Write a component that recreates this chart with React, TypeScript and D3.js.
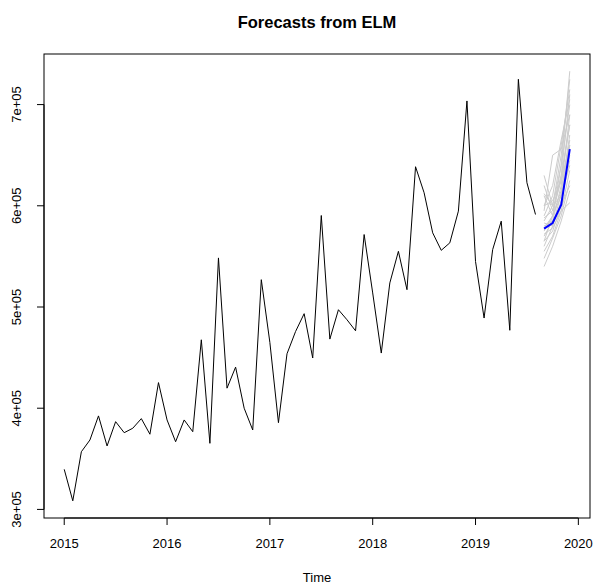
import React from "react";
import * as d3 from "d3";

const START = 2015;
const FREQ = 12;
// observed monthly values (Jan 2015 .. Aug 2019)
const observed: number[] = [
  339.6, 308.5, 357.0, 368.6, 392.4, 362.7, 386.7, 375.8, 380.2, 389.7, 374.3, 425.3,
  388.4, 366.9, 388.4, 376.8, 467.6, 365.3, 548.5, 419.8, 440.6, 400.0, 378.5, 527.0,
  465.0, 385.7, 453.8, 475.8, 493.4, 449.6, 590.4, 468.3, 497.3, 487.4, 476.5, 571.6,
  513.9, 454.5, 523.8, 555.0, 517.1, 638.6, 612.9, 573.3, 556.0, 563.4, 594.7, 703.6,
  545.0, 489.1, 556.7, 584.8, 477.0, 725.0, 622.8, 591.4,
].map((v) => v * 1000);

const forecastStart = START + observed.length / FREQ;
const forecastMean: number[] = [577.5, 583.0, 601.0, 656.0].map((v) => v * 1000);

const members: number[][] = [
  [578, 590, 640, 733],
  [585, 600, 650, 725],
  [590, 610, 660, 715],
  [600, 620, 665, 705],
  [595, 650, 656, 690],
  [630, 600, 640, 700],
  [620, 595, 625, 680],
  [610, 590, 615, 670],
  [570, 585, 620, 690],
  [565, 575, 600, 660],
  [560, 580, 605, 645],
  [555, 570, 595, 635],
  [548, 568, 590, 625],
  [540, 560, 585, 615],
  [575, 590, 610, 650],
  [580, 585, 600, 620],
  [572, 578, 595, 603],
  [588, 595, 630, 680],
  [600, 605, 625, 660],
  [612, 600, 610, 640],
  [565, 590, 630, 710],
  [583, 580, 612, 665],
].map((r) => r.map((v) => v * 1000));

const xTicks = [2015, 2016, 2017, 2018, 2019, 2020];
const yTicks = [300000, 400000, 500000, 600000, 700000];
const yTickLabels = ["3e+05", "4e+05", "5e+05", "6e+05", "7e+05"];

const W = 595;
const H = 585;
const L = 44, R = 590, T = 54, B = 518;
const FONT = "'Liberation Sans', Arial, sans-serif";

export default function App() {
  const tMin = START;
  const tMax = forecastStart + (forecastMean.length - 1) / FREQ;
  const tPad = (tMax - tMin) * 0.04;
  const allVals = [...observed, ...members.flat(), ...forecastMean];
  const vMin = d3.min(allVals)!;
  const vMax = d3.max(allVals)!;
  const vPad = (vMax - vMin) * 0.04;

  const x = d3.scaleLinear().domain([tMin - tPad, tMax + tPad]).range([L, R]);
  const y = d3.scaleLinear().domain([vMin - vPad, vMax + vPad]).range([B, T]);

  const obsLine = d3
    .line<number>()
    .x((_, i) => x(START + i / FREQ))
    .y((d) => y(d));
  const fcLine = d3
    .line<number>()
    .x((_, i) => x(forecastStart + i / FREQ))
    .y((d) => y(d));

  return (
    <div style={{ position: "fixed", left: 0, top: 0 }}>
      <svg width={W} height={H} style={{ display: "block", background: "#fff" }}>
        <text x={(L + R) / 2} y={28} textAnchor="middle" fontFamily={FONT} fontWeight="bold" fontSize={16.5}>
          Forecasts from ELM
        </text>
        <path d={obsLine(observed)!} fill="none" stroke="#000" strokeWidth={1} />
        {members.map((m, k) => (
          <path key={k} d={fcLine(m)!} fill="none" stroke="#cccccc" strokeWidth={1} />
        ))}
        <path d={fcLine(forecastMean)!} fill="none" stroke="#0000ff" strokeWidth={2} />
        <rect x={L} y={T} width={R - L} height={B - T} fill="none" stroke="#000" strokeWidth={1} />
        {/* x axis */}
        <line x1={x(xTicks[0])} x2={x(xTicks[xTicks.length - 1])} y1={B} y2={B} stroke="#000" />
        {xTicks.map((t) => (
          <g key={t}>
            <line x1={x(t)} x2={x(t)} y1={B} y2={B + 7} stroke="#000" />
            <text x={x(t)} y={548} textAnchor="middle" fontFamily={FONT} fontSize={13}>
              {t}
            </text>
          </g>
        ))}
        {/* y axis */}
        <line x1={L} x2={L} y1={y(yTicks[0])} y2={y(yTicks[yTicks.length - 1])} stroke="#000" />
        {yTicks.map((v, i) => (
          <g key={v}>
            <line x1={L - 7} x2={L} y1={y(v)} y2={y(v)} stroke="#000" />
            <text
              transform={`translate(21,${y(v)}) rotate(-90)`}
              textAnchor="middle"
              fontFamily={FONT}
              fontSize={13}
            >
              {yTickLabels[i]}
            </text>
          </g>
        ))}
        <text x={(L + R) / 2} y={582} textAnchor="middle" fontFamily={FONT} fontSize={13}>
          Time
        </text>
      </svg>
    </div>
  );
}
